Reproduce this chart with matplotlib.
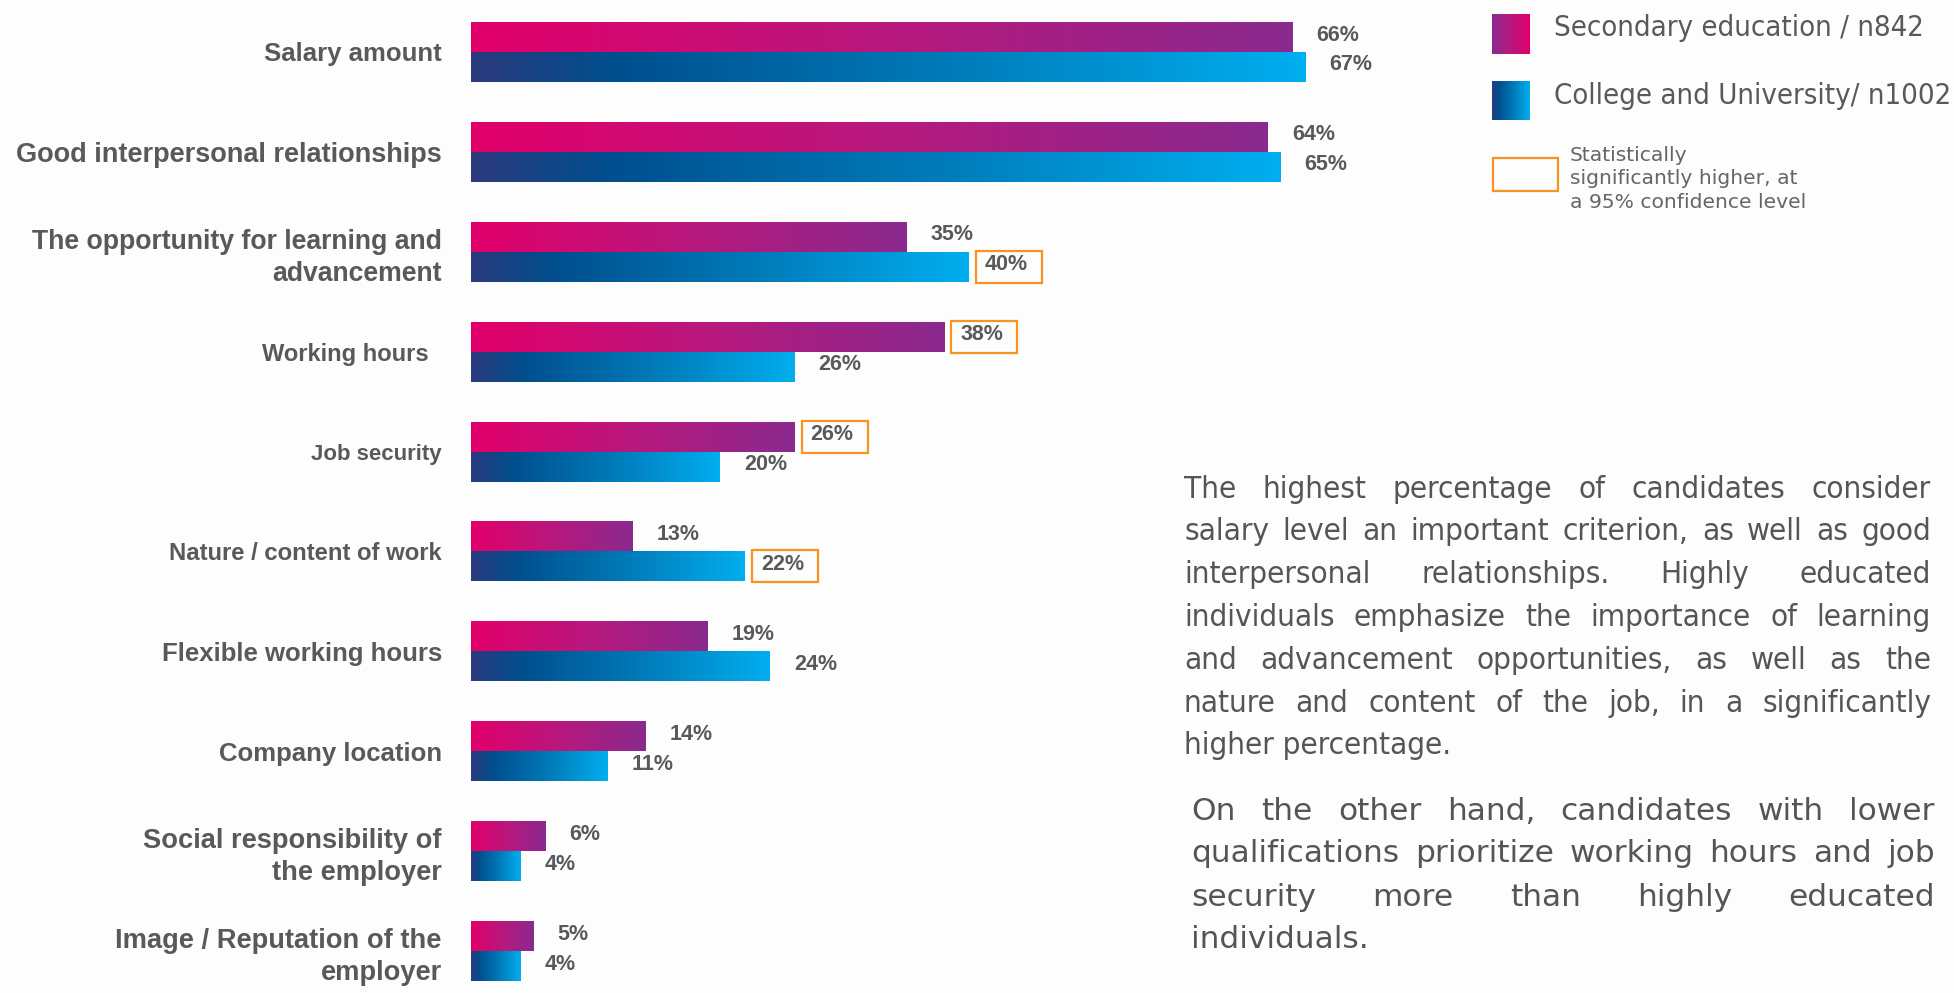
import numpy as np
import matplotlib
matplotlib.use("Agg")
import matplotlib.pyplot as plt
from matplotlib.colors import LinearSegmentedColormap
from matplotlib.patches import Rectangle

# survey results: importance of job criteria, in percent
criteria = [
    "Salary amount",
    "Good interpersonal relationships",
    "The opportunity for learning and\nadvancement",
    "Working hours  ",
    "Job security",
    "Nature / content of work",
    "Flexible working hours",
    "Company location",
    "Social responsibility of\nthe employer",
    "Image / Reputation of the\nemployer",
]
secondary = [66, 64, 35, 38, 26, 13, 19, 14, 6, 5]
college = [67, 65, 40, 26, 20, 22, 24, 11, 4, 4]
secondary_sig = [False, False, False, True, True, False, False, False, False, False]
college_sig = [False, False, True, False, False, True, False, False, False, False]

legend_labels = ["Secondary education / n842", "College and University/ n1002"]
sig_note = "Statistically\nsignificantly higher, at\na 95% confidence level"

summary_1 = [
    "The highest percentage of candidates consider",
    "salary level an important criterion, as well as good",
    "interpersonal relationships. Highly educated",
    "individuals emphasize the importance of learning",
    "and advancement opportunities, as well as the",
    "nature and content of the job, in a significantly",
    "higher percentage.",
]
summary_2 = [
    "On the other hand, candidates with lower",
    "qualifications prioritize working hours and job",
    "security more than highly educated",
    "individuals.",
]

W, H = 1954, 993
GRAY = "#58595b"
ORANGE = "#f7941e"
BOLD = ["Liberation Sans", "DejaVu Sans"]

# some category labels are set tighter or looser than the rest
label_size = {
    "Good interpersonal relationships": 19.5,
    "The opportunity for learning and\nadvancement": 19.2,
    "Working hours  ": 17.0,
    "Job security": 16.0,
    "Nature / content of work": 17.2,
    "Social responsibility of\nthe employer": 19.6,
    "Image / Reputation of the\nemployer": 19.6,
}

pink = LinearSegmentedColormap.from_list("pink", ["#e2006b", "#b8187d", "#8a2a8e"])
blue = LinearSegmentedColormap.from_list(
    "blue", [(0, "#2a3a7d"), (0.17, "#004f8e"), (0.55, "#0078b6"), (1, "#00aeef")])
ramp = np.linspace(0, 1, 256).reshape(1, -1)

fig = plt.figure(figsize=(W / 100, H / 100), dpi=100)
fig.patch.set_facecolor("#fdfdfd")

px_per_pct = 12.45
left_px = 471
ax = fig.add_axes([left_px / W, 0, (W - left_px) / W, 1])
ax.set_facecolor("none")
xmax = (W - left_px) / px_per_pct
ystep = 99.9
ylim = (9.42, -52 / ystep)

y = np.arange(len(criteria))
h = 0.30


def paint(bars, cmap):
    for b in bars:
        x0, y0, bw, bh = b.get_x(), b.get_y(), b.get_width(), b.get_height()
        ax.imshow(ramp, cmap=cmap, aspect="auto", interpolation="bicubic",
                  extent=(x0, x0 + bw, y0 + bh, y0), zorder=2)


bars_s = ax.barh(y - h / 2, secondary, height=h, color="none", zorder=1)
bars_c = ax.barh(y + h / 2, college, height=h, color="none", zorder=1)
paint(bars_s, pink)
paint(bars_c, blue)


def value_labels(vals, flags, offset):
    for i, (v, sig) in enumerate(zip(vals, flags)):
        yc = i + offset
        if sig:
            bx = v + 7 / px_per_pct
            ax.add_patch(Rectangle((bx, yc - 0.16), 66 / px_per_pct, 0.32,
                                   fill=False, ec=ORANGE, lw=1.6, zorder=3))
            tx = bx + 9 / px_per_pct
        else:
            tx = v + 24 / px_per_pct
        ax.text(tx, yc - 0.02, f"{v}%", va="center", ha="left", fontsize=15.5,
                fontweight="bold", family=BOLD, color=GRAY, zorder=4)


value_labels(secondary, secondary_sig, -h / 2)
value_labels(college, college_sig, h / 2)

ax.set_xlim(0, xmax)
ax.set_ylim(*ylim)
ax.set_xticks([])
ax.set_yticks(y, labels=criteria)
ax.tick_params(axis="y", length=0, pad=21)
for lab in ax.get_yticklabels():
    lab.set_family(BOLD)
    lab.set_fontsize(label_size.get(lab.get_text(), 18.5))
    lab.set_fontweight("bold")
    lab.set_color(GRAY)
    lab.set_linespacing(1.3)
for s in ax.spines.values():
    s.set_visible(False)

# overlay in pixel units for the legend and the commentary
ov = fig.add_axes([0, 0, 1, 1])
ov.axis("off")
ov.set_facecolor("none")

ov.imshow(ramp, cmap=pink.reversed(), aspect="auto", extent=(1492, 1530, 54, 14))
ov.imshow(ramp, cmap=blue, aspect="auto", extent=(1492, 1530, 120, 81))
ov.add_patch(Rectangle((1493, 158), 65, 33, fill=False, ec=ORANGE, lw=1.6))
ov.set_xlim(0, W)
ov.set_ylim(H, 0)

for lbl, yy in zip(legend_labels, [28, 96]):
    ov.text(1554, yy, lbl, va="center", ha="left", fontsize=21,
            family="DejaVu Sans", fontstretch="condensed", color="#595959")
ov.text(1570, 146, sig_note, va="top", ha="left", fontsize=14.6,
        family="DejaVu Sans", color="#666666", linespacing=1.3)

renderer = fig.canvas.get_renderer()


def justified(lines, x_left, x_right, y_top, step, **kw):
    for i, line in enumerate(lines):
        yy = y_top + i * step
        words = line.split()
        if i == len(lines) - 1:
            ov.text(x_left, yy, line, va="center", ha="left", **kw)
            continue
        arts = [ov.text(0, yy, w, va="center", ha="left", **kw) for w in words]
        widths = [a.get_window_extent(renderer).width for a in arts]
        gap = (x_right - x_left - sum(widths)) / (len(words) - 1)
        x = x_left
        for a, wd in zip(arts, widths):
            a.set_x(x)
            x += wd + gap


justified(summary_1, 1184, 1931, 489, 42.8, fontsize=22.5, family="DejaVu Sans",
          fontstretch="condensed", color="#555555")
justified(summary_2, 1191, 1935, 811, 43.0, fontsize=22.5, family="DejaVu Sans",
          color="#555555")

fig.savefig("out.png", dpi=100, facecolor=fig.get_facecolor())
